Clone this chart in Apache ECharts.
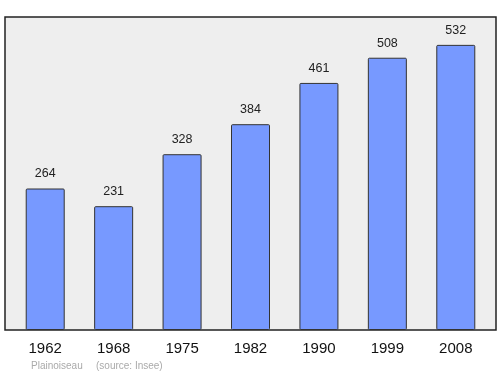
<!DOCTYPE html>
<html><head><meta charset="utf-8">
<script src="https://cdn.jsdelivr.net/npm/echarts@6/dist/echarts.min.js"></script>
<style>html,body{margin:0;padding:0;background:#fff}#c{width:500px;height:374px}</style>
</head><body><div id="c"></div>
<script>
var years = ['1962','1968','1975','1982','1990','1999','2008'];
var population = [264,231,328,384,461,508,532];
var footerName = 'Plainoiseau';
var footerSource = '(source: Insee)';

var chart = echarts.init(document.getElementById('c'), null, {renderer:'canvas'});
chart.setOption({
  animation:false,
  grid:{left:11,right:10,top:17,bottom:44},
  graphic:[
    {type:'rect',z:-10,shape:{x:5,y:17,width:491,height:313},style:{fill:'#eeeeee',stroke:'#222',lineWidth:1.5}},
    {type:'text',left:31,top:361,style:{text:footerName,fill:'#aaaaaa',font:'10px "Liberation Sans", Arial, sans-serif'}},
    {type:'text',left:96,top:361,style:{text:footerSource,fill:'#aaaaaa',font:'10px "Liberation Sans", Arial, sans-serif'}}
  ],
  xAxis:{type:'category',data:years,axisLine:{show:false},axisTick:{show:false},
    axisLabel:{margin:11,fontSize:15,color:'#111',fontFamily:'"Liberation Sans", Arial, sans-serif'}},
  yAxis:{type:'value',min:0,max:584,show:false,splitLine:{show:false}},
  series:[{type:'bar',data:population,barWidth:39,
    itemStyle:{color:'#7799ff',borderColor:'#333',borderWidth:1,borderRadius:1},
    label:{show:true,position:'top',distance:8,fontSize:12.5,color:'#222',fontFamily:'"Liberation Sans", Arial, sans-serif'}}]
});
</script></body></html>
